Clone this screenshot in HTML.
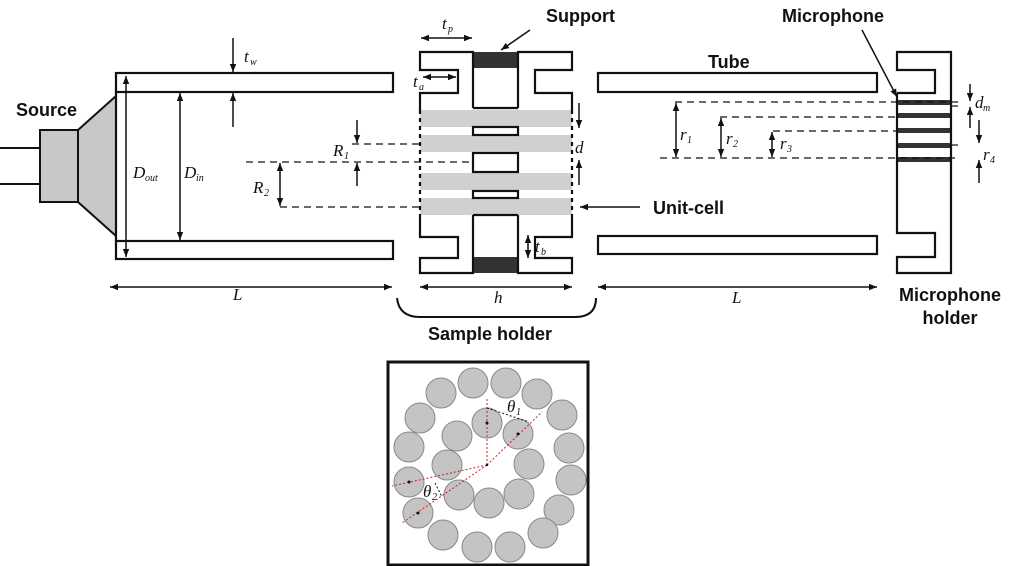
<!DOCTYPE html>
<html><head><meta charset="utf-8"><style>
html,body{margin:0;padding:0;background:#fff;}
svg{display:block;}
.b{font-family:"Liberation Sans",sans-serif;font-weight:bold;font-size:18px;fill:#111;}
.i{font-family:"Liberation Serif",serif;font-style:italic;font-size:17px;fill:#111;}
.s{font-family:"Liberation Serif",serif;font-style:italic;font-size:10px;fill:#111;}
</style></head><body>
<svg width="1024" height="566" viewBox="0 0 1024 566" xmlns="http://www.w3.org/2000/svg">
<defs>
<marker id="a" viewBox="0 0 10 10" refX="10" refY="5" markerWidth="8" markerHeight="8" orient="auto-start-reverse" markerUnits="userSpaceOnUse"><path d="M0,1 L10,5 L0,9 z" fill="#111"/></marker>
</defs>
<g stroke="#111" fill="none" stroke-width="1.5">
<line x1="0" y1="148" x2="40" y2="148" stroke-width="2"/>
<line x1="0" y1="184" x2="40" y2="184" stroke-width="2"/>
<rect x="40" y="130" width="38" height="72" fill="#c8c8c8" stroke-width="2"/>
<polygon points="78,130 116,96 116,236 78,202" fill="#c8c8c8" stroke-width="2"/>
<rect x="116" y="73" width="277" height="19" stroke-width="2.2"/>
<rect x="116" y="241" width="277" height="18" stroke-width="2.2"/>
<line x1="116" y1="92" x2="116" y2="241" stroke-width="2.2"/>
<line x1="126" y1="76" x2="126" y2="257" marker-start="url(#a)" marker-end="url(#a)"/>
<line x1="180" y1="93" x2="180" y2="240" marker-start="url(#a)" marker-end="url(#a)"/>
<line x1="233" y1="38" x2="233" y2="72" marker-end="url(#a)"/>
<line x1="233" y1="127" x2="233" y2="93" marker-end="url(#a)"/>
<line x1="357" y1="120" x2="357" y2="143" marker-end="url(#a)"/>
<line x1="357" y1="186" x2="357" y2="163" marker-end="url(#a)"/>
<line x1="280" y1="163" x2="280" y2="206" marker-start="url(#a)" marker-end="url(#a)"/>
<g stroke-dasharray="7,5" stroke-width="1.2">
<line x1="352" y1="144" x2="420" y2="144"/>
<line x1="246" y1="162" x2="498" y2="162"/>
<line x1="280" y1="207" x2="420" y2="207"/>
</g>
<line x1="110" y1="287" x2="392" y2="287" marker-start="url(#a)" marker-end="url(#a)"/>
</g>
<g stroke="#111" stroke-width="2.2" fill="none">
<rect x="420" y="110" width="152" height="17" fill="#d0d0d0" stroke="none"/>
<rect x="420" y="135" width="152" height="17" fill="#d0d0d0" stroke="none"/>
<rect x="420" y="173" width="152" height="17" fill="#d0d0d0" stroke="none"/>
<rect x="420" y="198" width="152" height="17" fill="#d0d0d0" stroke="none"/>
<rect x="473" y="52" width="45" height="16" fill="#333" stroke="none"/>
<rect x="473" y="257" width="45" height="16" fill="#333" stroke="none"/>
<polyline points="473,108 473,52 420,52 420,70 458,70 458,93 420,93 420,110"/>
<polyline points="518,108 518,52 572,52 572,70 535,70 535,93 572,93 572,110"/>
<line x1="473" y1="108" x2="518" y2="108"/>
<polyline points="473,215 473,273 420,273 420,258 458,258 458,237 420,237 420,215"/>
<polyline points="518,215 518,273 572,273 572,258 535,258 535,237 572,237 572,215"/>
<line x1="473" y1="215" x2="518" y2="215"/>
<g stroke-dasharray="4,4"><line x1="420" y1="110" x2="420" y2="215"/><line x1="572" y1="110" x2="572" y2="215"/></g>
<rect x="473" y="127" width="45" height="8" fill="#fff"/>
<rect x="473" y="153" width="45" height="19" fill="#fff"/>
<rect x="473" y="191" width="45" height="7" fill="#fff"/>
</g>
<g stroke="#111" stroke-width="1.5" fill="none">
<line x1="421" y1="38" x2="472" y2="38" marker-start="url(#a)" marker-end="url(#a)"/>
<line x1="423" y1="77" x2="456" y2="77" marker-start="url(#a)" marker-end="url(#a)"/>
<line x1="528" y1="235" x2="528" y2="258" marker-start="url(#a)" marker-end="url(#a)"/>
<line x1="579" y1="103" x2="579" y2="128" marker-end="url(#a)"/>
<line x1="579" y1="185" x2="579" y2="160" marker-end="url(#a)"/>
<line x1="530" y1="30" x2="501" y2="50" marker-end="url(#a)"/>
<line x1="640" y1="207" x2="580" y2="207" marker-end="url(#a)"/>
<line x1="420" y1="287" x2="572" y2="287" marker-start="url(#a)" marker-end="url(#a)"/>
<path d="M397,298 Q399,317 420,317 L575,317 Q596,317 596,298" stroke-width="2"/>
<line x1="598" y1="287" x2="877" y2="287" marker-start="url(#a)" marker-end="url(#a)"/>
</g>
<g stroke="#111" stroke-width="2.2" fill="none">
<rect x="598" y="73" width="279" height="19"/>
<rect x="598" y="236" width="279" height="18"/>
<rect x="897" y="100" width="54" height="5" fill="#333" stroke="none"/>
<rect x="897" y="113" width="54" height="5" fill="#333" stroke="none"/>
<rect x="897" y="128" width="54" height="5" fill="#333" stroke="none"/>
<rect x="897" y="143" width="54" height="5" fill="#333" stroke="none"/>
<rect x="897" y="157" width="54" height="5" fill="#333" stroke="none"/>
<polyline points="897,93 935,93 935,70 897,70 897,52 951,52 951,273 897,273 897,257 935,257 935,233 897,233 897,93"/>
</g>
<g stroke="#111" stroke-width="1.2" fill="none">
<g stroke-dasharray="7,5">
<line x1="675" y1="102" x2="960" y2="102"/>
<line x1="720" y1="117" x2="897" y2="117"/>
<line x1="773" y1="131" x2="897" y2="131"/>
<line x1="660" y1="158" x2="960" y2="158"/>
<line x1="951" y1="145" x2="960" y2="145"/>
<line x1="951" y1="106" x2="960" y2="106"/>
</g>
<g stroke-width="1.5">
<line x1="676" y1="103" x2="676" y2="157" marker-start="url(#a)" marker-end="url(#a)"/>
<line x1="721" y1="118" x2="721" y2="157" marker-start="url(#a)" marker-end="url(#a)"/>
<line x1="772" y1="132" x2="772" y2="157" marker-start="url(#a)" marker-end="url(#a)"/>
<line x1="970" y1="84" x2="970" y2="101" marker-end="url(#a)"/>
<line x1="970" y1="128" x2="970" y2="107" marker-end="url(#a)"/>
<line x1="979" y1="120" x2="979" y2="143" marker-end="url(#a)"/>
<line x1="979" y1="183" x2="979" y2="160" marker-end="url(#a)"/>
<line x1="862" y1="30" x2="897" y2="97" marker-end="url(#a)"/>
</g>
</g>
<text class="b" x="16" y="116">Source</text>
<text class="b" x="546" y="22">Support</text>
<text class="b" x="782" y="22">Microphone</text>
<text class="b" x="708" y="68">Tube</text>
<text class="b" x="653" y="214">Unit-cell</text>
<text class="b" x="428" y="340">Sample holder</text>
<text class="b" x="950" y="301" text-anchor="middle">Microphone</text>
<text class="b" x="950" y="324" text-anchor="middle">holder</text>
<text class="i" x="244" y="62">t</text><text class="s" x="250" y="65">w</text>
<text class="i" x="133" y="178">D</text><text class="s" x="145" y="181">out</text>
<text class="i" x="184" y="178">D</text><text class="s" x="196" y="181">in</text>
<text class="i" x="333" y="156">R</text><text class="s" x="344" y="159">1</text>
<text class="i" x="253" y="193">R</text><text class="s" x="264" y="196">2</text>
<text class="i" x="233" y="300">L</text>
<text class="i" x="442" y="29">t</text><text class="s" x="448" y="32">p</text>
<text class="i" x="413" y="87">t</text><text class="s" x="419" y="90">a</text>
<text class="i" x="535" y="252">t</text><text class="s" x="541" y="255">b</text>
<text class="i" x="575" y="153">d</text>
<text class="i" x="494" y="303">h</text>
<text class="i" x="732" y="303">L</text>
<text class="i" x="680" y="140">r</text><text class="s" x="687" y="143">1</text>
<text class="i" x="726" y="144">r</text><text class="s" x="733" y="147">2</text>
<text class="i" x="780" y="149">r</text><text class="s" x="787" y="152">3</text>
<text class="i" x="975" y="108">d</text><text class="s" x="983" y="111">m</text>
<text class="i" x="983" y="160">r</text><text class="s" x="990" y="163">4</text>
<rect x="388" y="362" width="200" height="203" fill="#fff" stroke="#111" stroke-width="3"/>
<g fill="#c4c4c4" stroke="#888" stroke-width="1">
<circle cx="473" cy="383" r="15"/><circle cx="506" cy="383" r="15"/><circle cx="537" cy="394" r="15"/>
<circle cx="562" cy="415" r="15"/><circle cx="569" cy="448" r="15"/><circle cx="571" cy="480" r="15"/>
<circle cx="559" cy="510" r="15"/><circle cx="543" cy="533" r="15"/><circle cx="510" cy="547" r="15"/>
<circle cx="477" cy="547" r="15"/><circle cx="443" cy="535" r="15"/><circle cx="418" cy="513" r="15"/>
<circle cx="409" cy="482" r="15"/><circle cx="409" cy="447" r="15"/><circle cx="420" cy="418" r="15"/>
<circle cx="441" cy="393" r="15"/>
<circle cx="487" cy="423" r="15"/><circle cx="518" cy="434" r="15"/><circle cx="529" cy="464" r="15"/>
<circle cx="519" cy="494" r="15"/><circle cx="489" cy="503" r="15"/><circle cx="459" cy="495" r="15"/>
<circle cx="447" cy="465" r="15"/><circle cx="457" cy="436" r="15"/>
</g>
<g stroke="#d02020" stroke-width="1" stroke-dasharray="2,2" fill="none">
<line x1="487" y1="465" x2="487" y2="397"/>
<line x1="487" y1="465" x2="542" y2="412"/>
<line x1="487" y1="465" x2="392" y2="486"/>
<line x1="487" y1="465" x2="402" y2="523"/>
</g>
<g stroke="#111" stroke-width="1" stroke-dasharray="2,2" fill="none">
<path d="M487,408 L529,422"/>
<path d="M435,483 L442,497"/>
</g>
<g fill="#111"><circle cx="487" cy="423" r="1.5"/><circle cx="518" cy="434" r="1.5"/><circle cx="409" cy="482" r="1.5"/><circle cx="418" cy="513" r="1.5"/><circle cx="487" cy="465" r="1.2"/></g>
<text class="i" x="507" y="412">θ</text><text class="s" x="516" y="415">1</text>
<text class="i" x="423" y="497">θ</text><text class="s" x="432" y="500">2</text>
</svg>
</body></html>
